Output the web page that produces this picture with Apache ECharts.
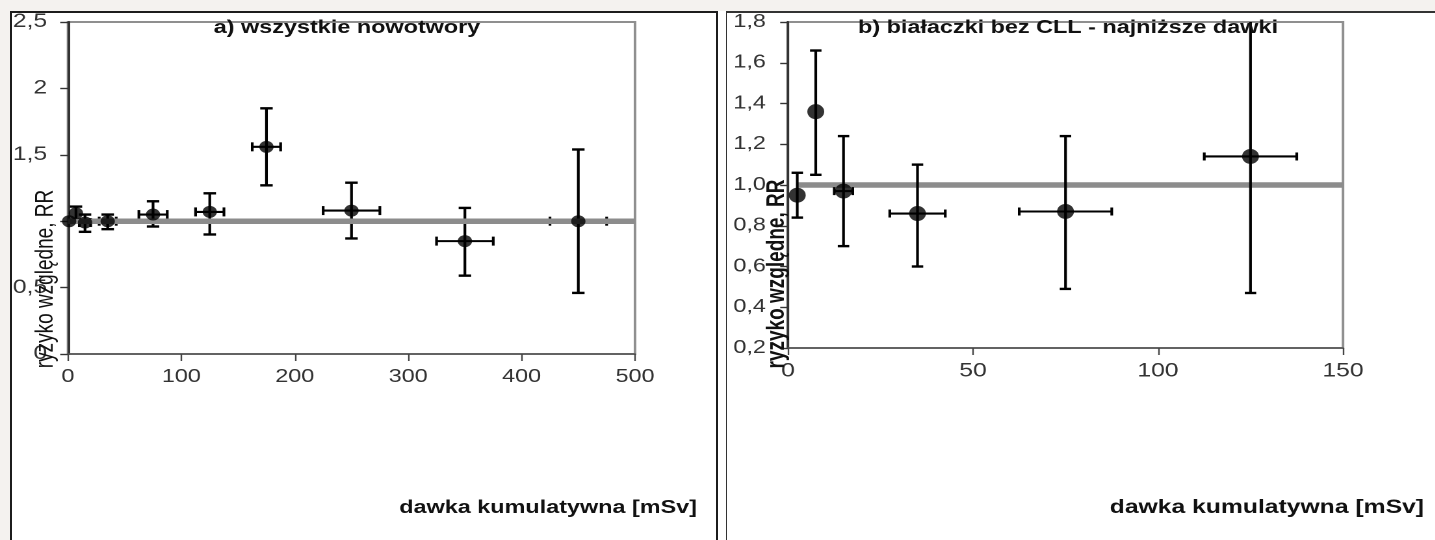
<!DOCTYPE html>
<html>
<head>
<meta charset="utf-8">
<title>ryzyko względne - dawka kumulatywna</title>
<script src="https://cdn.jsdelivr.net/npm/echarts@6/dist/echarts.min.js"></script>
<style>
   html, body { margin:0; padding:0; background:#f4f2ef; overflow:hidden; width:1435px; height:540px; }
   #sheet { position:absolute; left:10px; top:11px; width:1425px; height:529px; background:#fff; }
   #frameA { position:absolute; left:10px; top:11px; width:704px; height:540px; border:2px solid #1c1c1c; }
   #frameB { position:absolute; left:726px; top:11px; width:720px; height:540px; border:2px solid #333; border-left-width:1.5px; }
   /* the source figure is stretched sideways, so draw narrower and scale x */
   #wrap { position:absolute; left:0; top:0; width:1104px; height:540px; transform:scaleX(1.3); transform-origin:0 0; }
   #chart { width:1104px; height:540px; }
</style>
</head>
<body>
<div id="sheet"></div>
<div id="frameA"></div>
<div id="frameB"></div>
<div id="wrap"><div id="chart"></div></div>
<script>
var SX = 1.3;

/* a) wszystkie nowotwory */
var xTicksA = [0, 100, 200, 300, 400, 500];
var yTicksA = [0, 0.5, 1, 1.5, 2, 2.5];
var doseA     = [1,    7,    15,   35,   75,   125,   175,   250,  350,  450];
var rrA       = [1.00, 1.06, 0.99, 1.00, 1.05, 1.07,  1.56,  1.08, 0.85, 1.00];
var rrLowA    = [1.00, 1.01, 0.92, 0.94, 0.96, 0.90,  1.27,  0.87, 0.59, 0.46];
var rrHighA   = [1.00, 1.11, 1.05, 1.05, 1.15, 1.21,  1.85,  1.29, 1.10, 1.54];
var doseLowA  = [1,    7,    10,   27.5, 62.5, 112.5, 162.5, 225,  325,  425];
var doseHighA = [1,    7,    20,   42.5, 87.5, 137.5, 187.5, 275,  375,  475];
var refA = [0, 500];

/* b) białaczki bez CLL - najniższe dawki */
var xTicksB = [0, 50, 100, 150];
var yTicksB = [0.2, 0.4, 0.6, 0.8, 1.0, 1.2, 1.4, 1.6, 1.8];
var doseB     = [2.5,  7.5,  15,   35,   75,   125];
var rrB       = [0.95, 1.36, 0.97, 0.86, 0.87, 1.14];
var rrLowB    = [0.84, 1.05, 0.70, 0.60, 0.49, 0.47];
var rrHighB   = [1.06, 1.66, 1.24, 1.10, 1.24, 2.05];
var doseLowB  = [2.5,  7.5,  12.5, 27.5, 62.5, 112.5];
var doseHighB = [2.5,  7.5,  17.5, 42.5, 87.5, 137.5];
var refB = [2.5, 150];

var FONT = '"Liberation Sans", Arial, sans-serif';

function rows(d, r, lo, hi, dl, dh) {
   return d.map(function (v, i) { return [v, r[i], lo[i], hi[i], dl[i], dh[i]]; });
}
function points(d, r) {
   return d.map(function (v, i) { return [v, r[i]]; });
}

// error bars: vertical (RR range) and horizontal (dose range), with caps
function errorBars(capW, capH) {
   return function (params, api) {
      var x = api.value(0), y = api.value(1);
      var lo = api.value(2), hi = api.value(3);
      var xl = api.value(4), xh = api.value(5);
      var cs = params.coordSys;
      var st = { stroke: '#000', lineWidth: 2.1 };
      var cst = { stroke: '#000', lineWidth: 2.4 };
      var pc = api.coord([x, y]);
      var kids = [];
      if (hi > lo) {
         var pl = api.coord([x, lo]), ph = api.coord([x, hi]);
         var top = Math.max(ph[1], cs.y);
         kids.push({ type: 'line', shape: { x1: pc[0], y1: pl[1], x2: pc[0], y2: top }, style: st });
         kids.push({ type: 'line', shape: { x1: pc[0] - capW, y1: pl[1], x2: pc[0] + capW, y2: pl[1] }, style: cst });
         if (ph[1] >= cs.y) {
            kids.push({ type: 'line', shape: { x1: pc[0] - capW, y1: ph[1], x2: pc[0] + capW, y2: ph[1] }, style: cst });
         }
      }
      if (xh > xl) {
         var pa = api.coord([xl, y]), pb = api.coord([xh, y]);
         kids.push({ type: 'line', shape: { x1: pa[0], y1: pc[1], x2: pb[0], y2: pc[1] }, style: st });
         kids.push({ type: 'line', shape: { x1: pa[0], y1: pc[1] - capH, x2: pa[0], y2: pc[1] + capH }, style: st });
         kids.push({ type: 'line', shape: { x1: pb[0], y1: pc[1] - capH, x2: pb[0], y2: pc[1] + capH }, style: st });
      }
      return { type: 'group', children: kids };
   };
}

function axisX(gi, ticks, fs) {
   return {
      type: 'value', gridIndex: gi,
      min: ticks[0], max: ticks[ticks.length - 1], interval: ticks[1] - ticks[0],
      axisLine: { show: true, onZero: false, lineStyle: { color: '#555', width: 1.6 } },
      axisTick: { show: true, length: 7, lineStyle: { color: '#444', width: 1.2 } },
      axisLabel: { margin: 14, fontSize: fs, color: '#333', fontFamily: FONT },
      splitLine: { show: false }
   };
}
function axisY(gi, ticks, step, fs, margin, fmt) {
   return {
      type: 'value', gridIndex: gi,
      min: ticks[0], max: ticks[ticks.length - 1], interval: step,
      axisLine: { show: true, onZero: false, lineStyle: { color: '#333', width: 2 } },
      axisTick: { show: true, length: 6, lineStyle: { color: '#333', width: 1.4 } },
      axisLabel: { margin: margin, fontSize: fs, color: '#333', fontFamily: FONT, formatter: fmt },
      splitLine: { show: false }
   };
}
function label(x, y, text, font, align, rot) {
   return {
      type: 'text', x: x, y: y, rotation: rot || 0, z: 10,
      style: { text: text, x: 0, y: 0, font: font, fill: '#111', textAlign: align, verticalAlign: 'middle' }
   };
}

var chart = echarts.init(document.getElementById('chart'), null, { devicePixelRatio: 2 });
var option = {
   animation: false,
   backgroundColor: 'transparent',
   grid: [
      { left: 68 / SX, top: 22, width: 567 / SX, height: 332, show: true, backgroundColor: '#fff', borderColor: '#8f8f8f', borderWidth: 2 },
      { left: 788 / SX, top: 22, width: 555 / SX, height: 326, show: true, backgroundColor: '#fff', borderColor: '#8f8f8f', borderWidth: 2 }
   ],
   xAxis: [axisX(0, xTicksA, 18), axisX(1, xTicksB, 19)],
   yAxis: [
      axisY(0, yTicksA, 0.5, 19, 16, function (v) { return v === 1 ? '' : String(v).replace('.', ','); }),
      axisY(1, yTicksB, 0.2, 18, 17, function (v) { return v.toFixed(1).replace('.', ','); })
   ],
   graphic: [
      label(347 / SX, 28, 'a) wszystkie nowotwory', 'bold 18px ' + FONT, 'center'),
      label(1068 / SX, 28, 'b) białaczki bez CLL - najniższe dawki', 'bold 18px ' + FONT, 'center'),
      label(46 / SX, 279, 'ryzyko względne, RR', '19px ' + FONT, 'center', Math.PI / 2),
      label(777 / SX, 274, 'ryzyko względne, RR', 'bold 19px ' + FONT, 'center', Math.PI / 2),
      label(697 / SX, 508, 'dawka kumulatywna [mSv]', 'bold 18px ' + FONT, 'right'),
      label(1424 / SX, 508, 'dawka kumulatywna [mSv]', 'bold 19px ' + FONT, 'right')
   ],
   series: [
      {
         type: 'custom', xAxisIndex: 0, yAxisIndex: 0, z: 2, silent: true,
         renderItem: errorBars(4.8, 4.5), encode: { x: 0, y: 1 },
         data: rows(doseA, rrA, rrLowA, rrHighA, doseLowA, doseHighA)
      },
      {
         type: 'line', xAxisIndex: 0, yAxisIndex: 0, z: 3, silent: true, symbol: 'none',
         lineStyle: { color: '#8c8c8c', width: 5.5 },
         data: [[refA[0], 1], [refA[1], 1]]
      },
      {
         type: 'scatter', xAxisIndex: 0, yAxisIndex: 0, z: 4, silent: true,
         symbolSize: [11, 12], itemStyle: { color: '#000' },
         data: points(doseA, rrA)
      },
      {
         type: 'line', xAxisIndex: 1, yAxisIndex: 1, z: 2, silent: true, symbol: 'none',
         lineStyle: { color: '#8c8c8c', width: 5.5 },
         data: [[refB[0], 1], [refB[1], 1]]
      },
      {
         type: 'custom', xAxisIndex: 1, yAxisIndex: 1, z: 3, silent: true,
         renderItem: errorBars(4.4, 4), encode: { x: 0, y: 1 },
         data: rows(doseB, rrB, rrLowB, rrHighB, doseLowB, doseHighB)
      },
      {
         type: 'scatter', xAxisIndex: 1, yAxisIndex: 1, z: 4, silent: true,
         symbolSize: [13, 15], itemStyle: { color: '#000' },
         data: points(doseB, rrB)
      }
   ]
};
chart.setOption(option);
</script>
</body>
</html>
